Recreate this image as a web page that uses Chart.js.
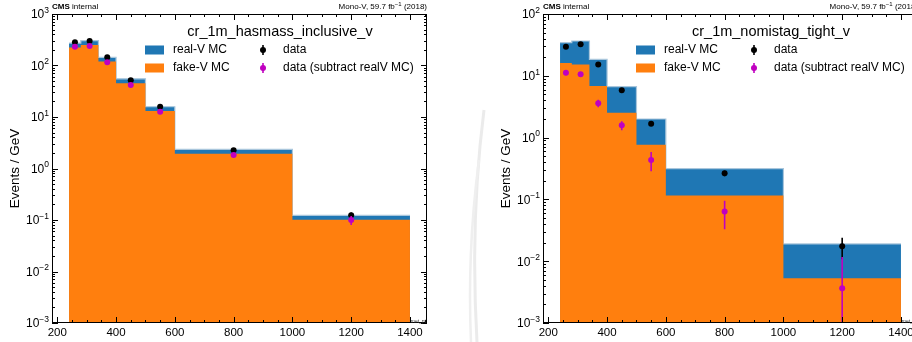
<!DOCTYPE html>
<html><head><meta charset="utf-8">
<script src="https://cdn.jsdelivr.net/npm/chart.js@4/dist/chart.umd.min.js"></script>
<style>
html,body{margin:0;padding:0;background:#fff;width:912px;height:342px;overflow:hidden;position:relative}
.panel{position:absolute;top:0;width:470px;height:342px}
svg.wm{position:absolute;left:0;top:0}
</style></head><body>
<svg class="wm" width="912" height="342"><path d="M 484 110 Q 470 220 477 342" stroke="#ebebeb" stroke-width="3" fill="none"/><path d="M 479 160 Q 467 250 471 342" stroke="#efefef" stroke-width="2.5" fill="none"/></svg>
<div class="panel" style="left:0"><canvas id="c1" width="470" height="342"></canvas></div>
<div class="panel" style="left:491px"><canvas id="c2" width="470" height="342"></canvas></div>
<script>
// ---- data ----
const binEdges = [240, 280, 340, 400, 500, 600, 1000, 1400];
const binCenters = [260, 310, 370, 450, 550, 800, 1200];
const xTickLabels = [200, 400, 600, 800, 1000, 1200, 1400];
const legendLabels = ['real-V MC', 'fake-V MC', 'data', 'data (subtract realV MC)'];

// panel 1: cr_1m_hasmass_inclusive_v
const p1Title = 'cr_1m_hasmass_inclusive_v';
const p1YExponents = [-3, -2, -1, 0, 1, 2, 3];
const p1TotalMC = [272, 303, 144, 55, 15.8, 2.36, 0.123];
const p1FakeMC = [224, 250, 119, 45, 13.1, 1.94, 0.101];
const p1Data = [282, 299, 144, 52, 15.8, 2.25, 0.123];
const p1DataErr = [2.7, 2.2, 1.6, 0.72, 0.40, 0.075, 0.0175];
const p1Sub = [232, 239, 115, 42, 12.7, 1.83, 0.100];
const p1SubErr = [2.9, 2.5, 1.7, 0.8, 0.44, 0.085, 0.02];

// panel 2: cr_1m_nomistag_tight_v
const p2Title = 'cr_1m_nomistag_tight_v';
const p2YExponents = [-3, -2, -1, 0, 1, 2];
const p2TotalMC = [34.4, 36.6, 18.5, 6.67, 2.0, 0.314, 0.019];
const p2FakeMC = [16.1, 15.3, 6.84, 2.53, 0.767, 0.116, 0.00528];
const p2Data = [29.6, 32.4, 15.3, 5.82, 1.68, 0.264, 0.0174];
const p2DataErr = [0.86, 0.73, 0.5, 0.24, 0.13, 0.026, 0.0066];
const p2Sub = [11.2, 10.6, 3.59, 1.58, 0.435, 0.064, 0.00365];
const p2SubErr = [0.95, 0.85, 0.5, 0.26, 0.15, 0.031, 0.008];

// ---- styling ----
const BLUE = '#1f77b4', ORANGE = '#ff7f0e', MAGENTA = '#c000c0';
const FONT = "'Liberation Sans', Arial, Helvetica, sans-serif";

function histPoints(values) {
  return binEdges.map((x, i) => ({ x: x, y: values[Math.min(i, values.length - 1)] }));
}
function centerPoints(values) {
  return binCenters.map((x, i) => ({ x: x, y: values[i] }));
}

const errPlugin = {
  id: 'errbars',
  beforeDatasetDraw(chart, args) {
    const ds = chart.data.datasets[args.index];
    if (!ds.errors) return;
    const c = chart.ctx, a = chart.chartArea, xs = chart.scales.x, ys = chart.scales.y;
    c.save();
    c.beginPath(); c.rect(a.left, a.top, a.right - a.left, a.bottom - a.top); c.clip();
    c.strokeStyle = ds.pointBackgroundColor; c.lineWidth = 1.6;
    c.beginPath();
    ds.data.forEach((p, i) => {
      const e = ds.errors[i];
      const px = xs.getPixelForValue(p.x);
      const hi = ys.getPixelForValue(p.y + e);
      const lo = (p.y - e) > 0 ? ys.getPixelForValue(p.y - e) : a.bottom + 5;
      c.moveTo(px, hi); c.lineTo(px, lo);
    });
    c.stroke();
    c.restore();
  }
};

function supText(c, base, exp, xRight, yMid, baseSize, expSize) {
  c.font = baseSize + 'px ' + FONT;
  const wb = c.measureText(base).width;
  c.font = expSize + 'px ' + FONT;
  const we = c.measureText(exp).width;
  const x0 = xRight - wb - we;
  c.textAlign = 'left'; c.textBaseline = 'middle';
  c.font = baseSize + 'px ' + FONT;
  c.fillText(base, x0, yMid);
  c.font = expSize + 'px ' + FONT;
  c.fillText(exp, x0 + wb, yMid - baseSize * 0.38);
}

function decorPlugin(title, yExps) {
  return {
    id: 'decor',
    afterDraw(chart) {
      const c = chart.ctx, a = chart.chartArea, xs = chart.scales.x, ys = chart.scales.y;
      const L = a.left, T = a.top;
      c.save();
      c.strokeStyle = '#000'; c.lineWidth = 1;
      c.beginPath();
      for (let v = 200; v <= 1450; v += 50) {
        const px = Math.round(xs.getPixelForValue(v)) + 0.5;
        const len = (v % 200 === 0) ? 6 : 3;
        c.moveTo(px, a.bottom); c.lineTo(px, a.bottom - len);
        c.moveTo(px, a.top); c.lineTo(px, a.top + len);
      }
      const yMax = Math.pow(10, yExps[yExps.length - 1]);
      yExps.forEach(e => {
        for (let m = 1; m < 10; m++) {
          const v = m * Math.pow(10, e);
          if (v > yMax * 1.0001) break;
          const py = Math.round(ys.getPixelForValue(v)) + 0.5;
          const len = m === 1 ? 6 : 3;
          c.moveTo(a.left, py); c.lineTo(a.left + len, py);
          c.moveTo(a.right, py); c.lineTo(a.right - len, py);
        }
      });
      c.stroke();
      c.strokeRect(a.left + 0.5, a.top + 0.5, a.right - a.left - 1, a.bottom - a.top - 1);

      c.fillStyle = '#000';
      // y tick labels
      yExps.forEach(e => {
        const py = ys.getPixelForValue(Math.pow(10, e));
        supText(c, '10', (e < 0 ? '\u2212' : '') + Math.abs(e), a.left - 3, py + 1, 12, 8.5);
      });
      // x tick labels
      c.font = '11.5px ' + FONT; c.textAlign = 'center'; c.textBaseline = 'middle';
      xTickLabels.forEach(v => c.fillText(String(v), xs.getPixelForValue(v), a.bottom + 10));

      // y-axis title
      c.save();
      c.translate(15, (a.top + a.bottom) / 2);
      c.rotate(-Math.PI / 2);
      c.font = '13.5px ' + FONT; c.textAlign = 'center'; c.textBaseline = 'middle';
      c.fillText('Events / GeV', 0, 0);
      c.restore();

      // tiny x-axis label
      c.font = '5px ' + FONT; c.textAlign = 'right'; c.textBaseline = 'bottom';
      c.fillStyle = '#333';
      c.fillText('met_pt', a.right - 1, a.bottom + 1);

      // header texts
      c.fillStyle = '#000';
      c.textBaseline = 'middle'; c.textAlign = 'left';
      c.font = 'bold 8px ' + FONT;
      c.fillText('CMS', L, 7);
      const wc = c.measureText('CMS ').width;
      c.font = '8px ' + FONT;
      c.fillText('internal', L + wc, 7);
      const parts = [['Mono-V, 59.7 fb', 8, 0], ['\u22121', 6, -2.5], [' (2018)', 8, 0]];
      let tot = 0;
      parts.forEach(p => { c.font = p[1] + 'px ' + FONT; tot += c.measureText(p[0]).width; });
      let xx = a.right - tot;
      parts.forEach(p => { c.font = p[1] + 'px ' + FONT; c.fillText(p[0], xx, 7 + p[2]); xx += c.measureText(p[0]).width; });

      // legend
      c.font = '14.5px ' + FONT; c.textAlign = 'center';
      c.fillText(title, L + 228, T + 18);
      c.font = '12px ' + FONT; c.textAlign = 'left';
      const r1 = T + 36, r2 = T + 54;
      c.fillStyle = BLUE; c.fillRect(L + 93, r1 - 4.5, 19, 9);
      c.fillStyle = ORANGE; c.fillRect(L + 93, r2 - 4.5, 19, 9);
      c.fillStyle = '#000';
      c.fillText(legendLabels[0], L + 121, r1);
      c.fillText(legendLabels[1], L + 121, r2);
      c.fillText(legendLabels[2], L + 231, r1);
      c.fillText(legendLabels[3], L + 231, r2);
      [[r1, '#000'], [r2, MAGENTA]].forEach(([ry, col]) => {
        c.strokeStyle = col; c.fillStyle = col; c.lineWidth = 1.6;
        c.beginPath(); c.moveTo(L + 211, ry - 5); c.lineTo(L + 211, ry + 5); c.stroke();
        c.beginPath(); c.arc(L + 211, ry, 3, 0, Math.PI * 2); c.fill();
      });
      c.restore();
    }
  };
}

function makeChart(id, title, yExps, totalMC, fakeMC, data, dataErr, sub, subErr) {
  return new Chart(document.getElementById(id), {
    type: 'line',
    data: {
      datasets: [
        { label: legendLabels[1], data: histPoints(fakeMC), stepped: true, fill: 'start',
          backgroundColor: ORANGE, borderColor: ORANGE, borderWidth: 0, pointRadius: 0, order: 1 },
        { label: legendLabels[0], data: histPoints(totalMC), stepped: true, fill: 'start',
          backgroundColor: BLUE, borderColor: '#a9c6dc', borderWidth: 1.2, pointRadius: 0, order: 2 },
        { label: legendLabels[2], data: centerPoints(data), errors: dataErr, showLine: false,
          pointRadius: 3, pointBorderWidth: 0, pointBackgroundColor: '#000', backgroundColor: '#000', order: 0.5 },
        { label: legendLabels[3], data: centerPoints(sub), errors: subErr, showLine: false,
          pointRadius: 3, pointBorderWidth: 0, pointBackgroundColor: MAGENTA, backgroundColor: MAGENTA, order: 0 }
      ]
    },
    options: {
      responsive: false, animation: false, devicePixelRatio: 1,
      layout: { padding: { left: 52, top: 14, right: 43, bottom: 19 } },
      scales: {
        x: { type: 'linear', min: 182, max: 1458, display: false },
        y: { type: 'logarithmic', min: Math.pow(10, yExps[0]), max: Math.pow(10, yExps[yExps.length - 1]), display: false }
      },
      plugins: { legend: { display: false }, tooltip: { enabled: false } }
    },
    plugins: [errPlugin, decorPlugin(title, yExps)]
  });
}

makeChart('c1', p1Title, p1YExponents, p1TotalMC, p1FakeMC, p1Data, p1DataErr, p1Sub, p1SubErr);
makeChart('c2', p2Title, p2YExponents, p2TotalMC, p2FakeMC, p2Data, p2DataErr, p2Sub, p2SubErr);
</script>
</body></html>
